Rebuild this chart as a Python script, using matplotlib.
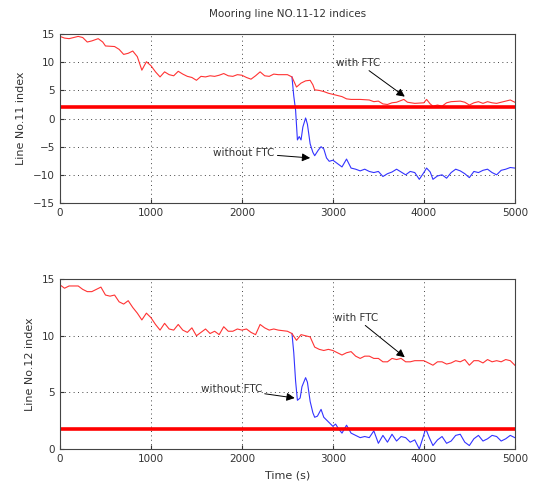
import numpy as np
import matplotlib

matplotlib.use("Agg")
import matplotlib.pyplot as plt

# Line No.11 - with FTC (red)
t11_ftc = [0, 50, 100, 200, 250, 300, 350, 420, 470, 500, 600, 650, 700, 750, 800, 850, 900, 950,
           1000, 1050, 1100, 1150, 1200, 1250, 1300, 1350, 1400, 1450, 1500, 1550, 1600, 1650,
           1700, 1750, 1800, 1850, 1900, 1950, 2000, 2050, 2100, 2150, 2200, 2250, 2300, 2350,
           2400, 2500, 2550, 2600, 2650, 2700, 2750, 2780, 2800, 2850, 2900, 2950, 3000, 3050,
           3100, 3150, 3200, 3300, 3400, 3450, 3500, 3550, 3600, 3650, 3700, 3780, 3820, 3900,
           4000, 4030, 4070, 4100, 4150, 4200, 4250, 4300, 4400, 4450, 4500, 4550, 4600, 4650,
           4700, 4750, 4800, 4850, 4950, 5000]
y11_ftc = [14.6, 14.3, 14.2, 14.6, 14.4, 13.6, 13.8, 14.2, 13.6, 12.9, 12.8, 12.3, 11.4, 11.6, 12.0, 11.0, 8.6, 10.1,
           9.4, 8.3, 7.4, 8.3, 7.8, 7.6, 8.4, 7.9, 7.5, 7.3, 6.8, 7.5, 7.4, 7.6,
           7.5, 7.7, 8.0, 7.6, 7.5, 7.8, 7.7, 7.3, 7.0, 7.6, 8.3, 7.6, 7.5, 7.9,
           7.8, 7.8, 7.4, 5.6, 6.3, 6.7, 6.8, 6.0, 5.1, 5.0, 4.8, 4.5, 4.3, 4.1,
           3.9, 3.5, 3.4, 3.4, 3.3, 3.0, 3.1, 2.6, 2.5, 2.8, 2.9, 3.4, 2.9, 2.7,
           2.8, 3.4, 2.6, 2.2, 2.4, 2.2, 2.8, 3.0, 3.1, 2.9, 2.4, 2.8, 3.0, 2.7,
           3.0, 2.8, 2.7, 2.9, 3.3, 2.9]

# Line No.11 - without FTC (blue), after the failure
t11_no = [2550, 2570, 2590, 2610, 2630, 2650, 2670, 2700, 2720, 2750, 2780, 2800, 2840, 2870, 2900,
          2930, 2960, 3000, 3050, 3100, 3150, 3200, 3250, 3300, 3350, 3400, 3450, 3500, 3550,
          3600, 3650, 3700, 3750, 3800, 3850, 3900, 3950, 4000, 4030, 4070, 4100, 4150, 4200,
          4250, 4300, 4350, 4400, 4450, 4500, 4550, 4600, 4650, 4700, 4750, 4800, 4850, 4900,
          4950, 5000]
y11_no = [7.4, 4.0, 1.5, -3.8, -3.2, -3.8, -1.5, 0.1, -1.0, -4.5, -6.0, -6.6, -5.6, -5.0, -5.4,
          -7.0, -7.6, -7.4, -8.0, -8.6, -7.2, -8.8, -9.0, -9.3, -9.0, -9.4, -9.6, -9.4, -10.3,
          -9.8, -9.5, -9.0, -9.5, -10.0, -9.4, -9.6, -10.8, -9.6, -8.8, -9.5, -10.8, -10.2, -10.0,
          -10.6, -9.6, -9.0, -9.3, -9.8, -10.5, -9.4, -9.6, -9.2, -9.0, -9.6, -10.0, -9.2, -9.0,
          -8.7, -8.8]

# Line No.12 - with FTC (red)
t12_ftc = [0, 50, 100, 200, 250, 300, 350, 400, 450, 500, 550, 600, 650, 700, 750, 800, 850, 900,
           950, 1000, 1050, 1100, 1150, 1200, 1250, 1300, 1350, 1400, 1450, 1500, 1550, 1600,
           1650, 1700, 1750, 1800, 1850, 1900, 1950, 2000, 2050, 2100, 2150, 2200, 2250, 2300,
           2350, 2400, 2500, 2550, 2600, 2650, 2700, 2750, 2800, 2850, 2900, 2950, 3000, 3050,
           3100, 3150, 3200, 3250, 3300, 3350, 3400, 3450, 3500, 3550, 3600, 3650, 3700, 3750,
           3800, 3850, 3900, 4000, 4050, 4100, 4150, 4200, 4250, 4300, 4350, 4400, 4450, 4500,
           4550, 4600, 4650, 4700, 4750, 4800, 4850, 4900, 4950, 5000]
y12_ftc = [14.5, 14.2, 14.4, 14.4, 14.1, 13.9, 13.9, 14.1, 14.3, 13.6, 13.5, 13.6, 13.0, 12.8, 13.1, 12.5, 12.0, 11.4,
           12.0, 11.6, 11.0, 10.5, 11.1, 10.6, 10.5, 11.0, 10.5, 10.3, 10.7, 10.0, 10.3, 10.6,
           10.2, 10.4, 10.1, 10.8, 10.4, 10.4, 10.6, 10.5, 10.6, 10.3, 10.1, 11.0, 10.7, 10.5,
           10.6, 10.5, 10.4, 10.2, 9.6, 10.1, 10.0, 9.9, 9.0, 8.8, 8.7, 8.8, 8.7, 8.5,
           8.3, 8.5, 8.6, 8.2, 8.0, 8.2, 8.2, 8.0, 8.0, 7.7, 7.7, 8.0, 7.9, 8.0,
           7.7, 7.7, 7.8, 7.8, 7.6, 7.4, 7.7, 7.7, 7.5, 7.6, 7.8, 7.7, 7.9, 7.4,
           7.8, 7.8, 7.6, 7.9, 7.7, 7.8, 7.7, 7.9, 7.8, 7.4]

# Line No.12 - without FTC (blue), after the failure
t12_no = [2550, 2570, 2590, 2610, 2640, 2660, 2700, 2720, 2750, 2780, 2800, 2830, 2870, 2900, 2950,
          3000, 3030, 3060, 3100, 3150, 3200, 3250, 3300, 3350, 3400, 3450, 3500, 3550, 3600,
          3650, 3700, 3750, 3800, 3850, 3900, 3950, 3990, 4020, 4060, 4100, 4150, 4200, 4250,
          4300, 4350, 4400, 4450, 4500, 4550, 4600, 4650, 4700, 4750, 4800, 4850, 4900, 4950, 5000]
y12_no = [10.2, 8.5, 6.0, 4.3, 4.5, 5.5, 6.3, 5.9, 4.2, 3.2, 2.8, 2.9, 3.5, 2.8, 2.4,
          2.0, 2.2, 1.8, 1.4, 2.1, 1.4, 1.2, 1.0, 1.1, 1.0, 1.6, 0.5, 1.2, 0.6,
          1.3, 0.7, 1.1, 1.0, 0.6, 0.8, 0.0, 1.0, 1.8, 1.0, 0.3, 0.8, 1.1, 0.5,
          0.7, 1.2, 1.3, 0.6, 0.3, 0.9, 1.2, 0.7, 0.9, 1.2, 1.1, 0.7, 0.9, 1.2, 1.0]

threshold_11 = 2.0
threshold_12 = 1.75

TEXT = "#333333"
FS = 7.5

fig = plt.figure(figsize=(5.37, 4.95), dpi=100)
ax1 = fig.add_axes([0.1117, 0.590, 0.847, 0.341])
ax2 = fig.add_axes([0.1117, 0.093, 0.847, 0.343])


def style(ax, yticks):
    ax.set_xlim(0, 5000)
    ax.set_xticks(np.arange(0, 5001, 1000))
    ax.set_ylim(yticks[0], yticks[-1])
    ax.set_yticks(yticks)
    ax.grid(True, linestyle=(0, (1, 3.5)), color="#444444", linewidth=0.7)
    ax.tick_params(direction="in", length=3, labelsize=FS, colors=TEXT, labelcolor=TEXT)
    for s in ax.spines.values():
        s.set_color("#444444")
        s.set_linewidth(0.8)


arrow = dict(arrowstyle="-|>", color="black", lw=0.7, mutation_scale=12,
             shrinkA=0, shrinkB=0)

# top panel
ax1.plot(t11_no, y11_no, color="#3333ff", lw=0.8)
ax1.plot(t11_ftc, y11_ftc, color="#ff3333", lw=0.8)
ax1.axhline(threshold_11, color="#ff0000", lw=2.6)
style(ax1, [-15, -10, -5, 0, 5, 10, 15])
ax1.set_ylabel("Line No.11 index", fontsize=FS + 0.5, color=TEXT, labelpad=5)
ax1.set_title("Mooring line NO.11-12 indices", fontsize=FS, color=TEXT, pad=12)
ax1.annotate("with FTC", xy=(3790, 3.9), xytext=(3280, 9.9), fontsize=FS, color=TEXT,
             ha="center", va="center", arrowprops=arrow)
ax1.annotate("without FTC", xy=(2750, -7.0), xytext=(2360, -6.1), fontsize=FS, color=TEXT,
             ha="right", va="center", arrowprops=arrow)

# bottom panel
ax2.plot(t12_no, y12_no, color="#3333ff", lw=0.8)
ax2.plot(t12_ftc, y12_ftc, color="#ff3333", lw=0.8)
ax2.axhline(threshold_12, color="#ff0000", lw=2.6)
style(ax2, [0, 5, 10, 15])
ax2.set_ylabel("Line No.12 index", fontsize=FS + 0.5, color=TEXT, labelpad=5)
ax2.set_xlabel("Time (s)", fontsize=FS + 0.5, color=TEXT, labelpad=5)
ax2.annotate("with FTC", xy=(3790, 8.1), xytext=(3250, 11.6), fontsize=FS, color=TEXT,
             ha="center", va="center", arrowprops=arrow)
ax2.annotate("without FTC", xy=(2580, 4.5), xytext=(2220, 5.3), fontsize=FS, color=TEXT,
             ha="right", va="center", arrowprops=arrow)

fig.savefig("out.png", dpi=100)
